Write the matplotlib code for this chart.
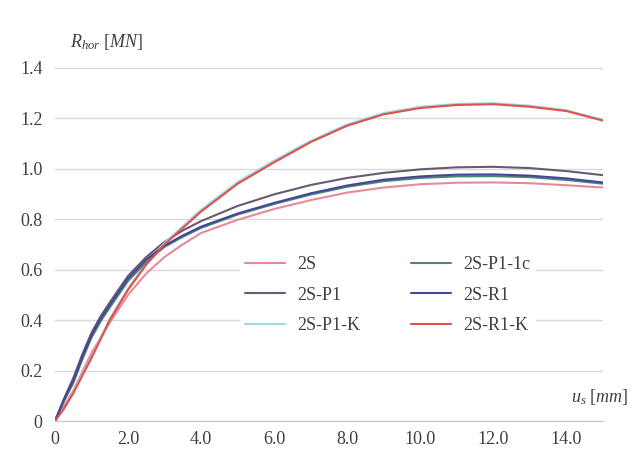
import matplotlib
matplotlib.use('Agg')
from matplotlib import pyplot as plt
from matplotlib import rc

# szeryfowa czcionka jak w opisie osi
rc('font', family='Liberation Serif')
rc('mathtext', fontset='custom', rm='Liberation Serif', it='Liberation Serif:italic')

u = [0, 0.25, 0.5, 0.75, 1, 1.25, 1.5, 2, 2.5, 3, 3.5, 4, 5, 6, 7, 8, 9, 10, 11, 12, 13, 14, 15]

r_2s = [0, 0.06, 0.12, 0.195, 0.27, 0.33, 0.39, 0.50, 0.585, 0.65, 0.70, 0.745, 0.797, 0.84,
        0.875, 0.905, 0.925, 0.938, 0.944, 0.945, 0.942, 0.934, 0.925]
r_2s_p1 = [0, 0.09, 0.17, 0.265, 0.35, 0.415, 0.47, 0.575, 0.65, 0.71, 0.755, 0.792, 0.852,
           0.898, 0.935, 0.963, 0.983, 0.997, 1.005, 1.007, 1.002, 0.99, 0.974]
r_2s_p1_k = [0, 0.05, 0.115, 0.185, 0.255, 0.33, 0.405, 0.525, 0.625, 0.705, 0.772, 0.837,
             0.947, 1.032, 1.11, 1.175, 1.22, 1.245, 1.256, 1.259, 1.249, 1.231, 1.193]
r_2s_p1_1c = [0, 0.08, 0.15, 0.245, 0.33, 0.395, 0.45, 0.555, 0.63, 0.69, 0.73, 0.765, 0.818,
              0.86, 0.897, 0.928, 0.95, 0.963, 0.969, 0.97, 0.966, 0.955, 0.94]
r_2s_r1 = [0, 0.085, 0.16, 0.255, 0.34, 0.405, 0.46, 0.565, 0.64, 0.695, 0.735, 0.77, 0.822,
           0.864, 0.902, 0.933, 0.956, 0.969, 0.976, 0.977, 0.972, 0.961, 0.945]
r_2s_r1_k = [0, 0.05, 0.11, 0.18, 0.25, 0.325, 0.40, 0.52, 0.62, 0.70, 0.765, 0.83, 0.94,
             1.025, 1.105, 1.17, 1.215, 1.24, 1.252, 1.255, 1.245, 1.228, 1.19]

labels = ['2S', '2S-P1', '2S-P1-K', '2S-P1-1c', '2S-R1', '2S-R1-K']
series = [r_2s, r_2s_p1, r_2s_p1_k, r_2s_p1_1c, r_2s_r1, r_2s_r1_k]
colors = ['#e8899a', '#6a5a70', '#9fd8e4', '#4a8878', '#45459a', '#e0504c']

x_ticks = [0, 2, 4, 6, 8, 10, 12, 14]
x_tick_labels = ['0', '2.0', '4.0', '6.0', '8.0', '10.0', '12.0', '14.0']
y_ticks = [0, 0.2, 0.4, 0.6, 0.8, 1.0, 1.2, 1.4]
y_tick_labels = ['0', '0.2', '0.4', '0.6', '0.8', '1.0', '1.2', '1.4']

fig = plt.figure(figsize=(6.32, 4.53), dpi=100)
ax = fig.add_axes([55 / 632, 32 / 453, 548 / 632, 366 / 453])

for y, lab, c in zip(series, labels, colors):
    ax.plot(u, y, color=c, lw=1.5, label=lab, solid_capstyle='round')

ax.set_xlim(0, 15)
ax.set_ylim(0, 1.45)
ax.set_xticks(x_ticks, x_tick_labels)
ax.set_yticks(y_ticks, y_tick_labels)
ax.tick_params(length=0, labelsize=13, colors='#404040')
ax.tick_params(axis='x', pad=7)
ax.tick_params(axis='y', pad=9)
ax.grid(axis='y', color='#d9d9d9', lw=1)
ax.set_axisbelow(True)
for s in ['top', 'right', 'left']:
    ax.spines[s].set_visible(False)
ax.spines['bottom'].set_color('#c8c8c8')

fig.text(70 / 632, 1 - 42 / 453, r'$R_{hor}$ [$MN$]', fontsize=13, color='#404040',
         ha='left', va='center')
fig.text(628 / 632, 1 - 397 / 453, r'$u_s$ [$mm$]', fontsize=13, color='#404040',
         ha='right', va='center')

leg = ax.legend(ncol=2, loc='center', bbox_to_anchor=(388 / 632, 1 - 295 / 453),
                bbox_transform=fig.transFigure, fontsize=13, handlelength=2.2,
                handletextpad=0.7, columnspacing=2.8, labelspacing=0.75,
                frameon=True, framealpha=1, facecolor='white', edgecolor='none',
                borderpad=0.3)
for t in leg.get_texts():
    t.set_color('#404040')

plt.savefig('out.png', dpi=100)
